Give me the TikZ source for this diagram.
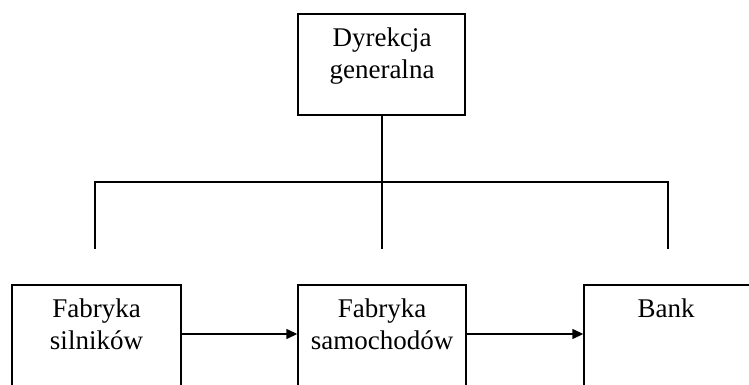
\documentclass[tikz,border=0pt]{standalone}
\usepackage{fontspec}
\setmainfont{Liberation Serif}
\usetikzlibrary{arrows.meta}
\begin{document}
\begin{tikzpicture}[x=1pt,y=1pt,
  box/.style={draw, line width=1.4pt, inner sep=0pt},
  lbl/.style={font=\fontsize{27}{32}\selectfont, align=center, anchor=north, inner sep=0pt},
  conn/.style={line width=1.4pt},
  arr/.style={line width=1.4pt, -{Triangle[length=11pt,width=10pt]}}]
\useasboundingbox (0,0) rectangle (749,385);
\clip (0,0) rectangle (749,385);
% top box
\node[box, minimum width=167pt, minimum height=101pt] (dg) at (381.5,320.5) {};
\node[lbl] (dgt) at (382,357) {Dyrekcja\\generalna};
% bottom boxes (cut by the page edge)
\node[box, minimum width=169pt, minimum height=140pt] (fs) at (96.5,30) {};
\node[box, minimum width=168pt, minimum height=140pt] (fm) at (382,30) {};
\node[box, minimum width=168pt, minimum height=140pt] (bk) at (668,30) {};
\node[lbl] (fst) at (96.5,86) {Fabryka\\silników};
\node[lbl] (fmt) at (382,86) {Fabryka\\samochodów};
\node[lbl] (bkt) at (666,86) {Bank};
% tree connectors
\coordinate (hL) at (95,203);
\coordinate (hM) at (382,203);
\coordinate (hR) at (668,203);
\coordinate (eL) at (95,136);
\coordinate (eM) at (382,136);
\coordinate (eR) at (668,136);
\draw[conn] (dg.south -| hM) -- (hM);
\draw[conn] (eL) -- (hL) -- (hR) -- (eR);
\draw[conn] (hM) -- (eM);
% arrows
\coordinate (ay) at (0,51);
\draw[arr] (fs.east |- ay) -- (fm.west |- ay);
\draw[arr] (fm.east |- ay) -- (bk.west |- ay);
\end{tikzpicture}
\end{document}
